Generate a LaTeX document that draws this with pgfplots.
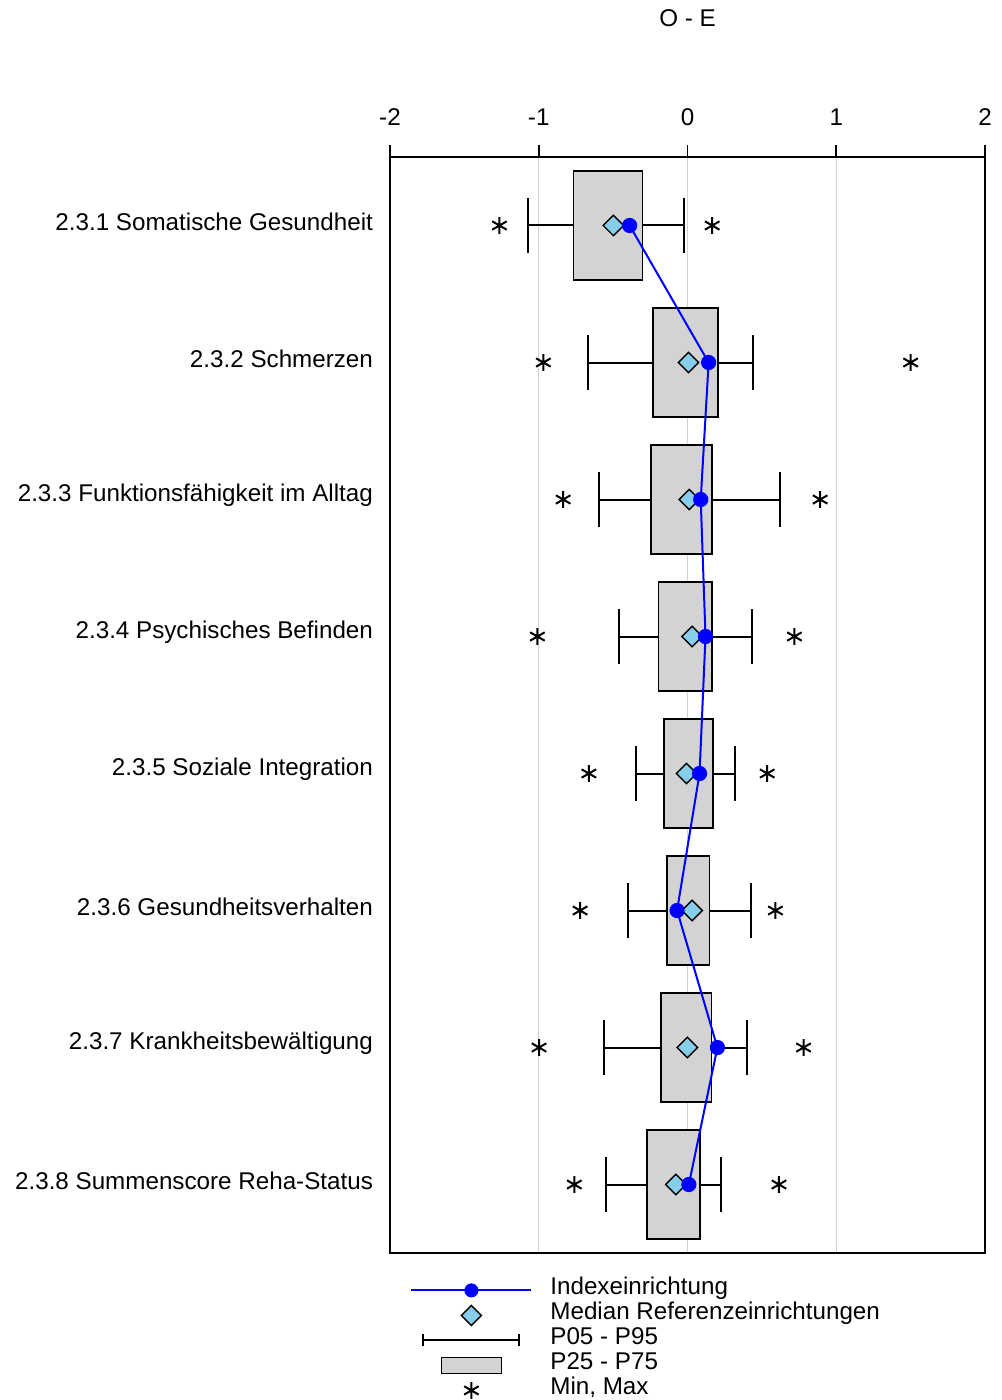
\documentclass[border=0pt]{standalone}
\usepackage{fontspec}
\setmainfont{Liberation Sans}
\usepackage{pgfplots}
\pgfplotsset{compat=1.18}
\usepgfplotslibrary{statistics}
\usetikzlibrary{calc}
\definecolor{boxgray}{RGB}{211,211,211}
\definecolor{medblue}{RGB}{135,206,235}
\definecolor{gridgray}{RGB}{208,208,208}
\newcommand\lab{\fontsize{12.1}{14.4}\selectfont}

\begin{document}
\begin{tikzpicture}
\begin{axis}[
    name=ax,
    scale only axis,
    width=297.5pt, height=548pt,
    xmin=-2, xmax=2, ymin=0.5, ymax=8.5,
    y dir=reverse,
    xtick={-2,-1,0,1,2},
    xticklabels={-2,-1,0,1,2},
    xtick pos=right, xticklabel pos=right,
    tick align=outside,
    major tick length=6pt,
    ytick={1,...,8},
    yticklabels={2.3.1 Somatische Gesundheit, 2.3.2 Schmerzen,
        2.3.3 Funktionsfähigkeit im Alltag, 2.3.4 Psychisches Befinden,
        2.3.5 Soziale Integration, 2.3.6 Gesundheitsverhalten,
        2.3.7 Krankheitsbewältigung, 2.3.8 Summenscore Reha-Status},
    ytick pos=left,
    ytick style={draw=none},
    xtick style={black, line width=0.8pt},
    xmajorgrids,
    grid style={gridgray, line width=0.5pt},
    axis line style={line width=0.9pt},
    tick label style={font=\lab},
    xticklabel style={yshift=6pt},
    yticklabel style={xshift=1pt, yshift=2pt},
    boxplot/draw direction=x,
    boxplot/box extend=0.8,
    boxplot/whisker extend=0.4,
    boxplot/draw/median/.code={},
    boxplot/every whisker/.style={draw=black, line width=1pt},
    boxplot/every box/.style={draw=black, fill=boxgray, line width=0.9pt},
    legend cell align=left,
    legend style={at={(0,0)}, anchor=north west, xshift=10pt, yshift=-12.25pt,
        draw=none, fill=none, font=\lab, inner sep=0pt, row sep=0pt,
        column sep=9pt,
        nodes={inner sep=0pt, text height=8.5pt, text depth=4pt}},
]
% P05 - P95 whiskers and P25 - P75 boxes
\addplot[boxplot prepared={draw position=1, lower whisker=-1.075, lower quartile=-0.767,
    median=-0.498, upper quartile=-0.302, upper whisker=-0.023}, draw=black, forget plot] coordinates {};
\addplot[boxplot prepared={draw position=2, lower whisker=-0.666, lower quartile=-0.233,
    median=0.007, upper quartile=0.203, upper whisker=0.440}, draw=black, forget plot] coordinates {};
\addplot[boxplot prepared={draw position=3, lower whisker=-0.594, lower quartile=-0.246,
    median=0.012, upper quartile=0.163, upper whisker=0.623}, draw=black, forget plot] coordinates {};
\addplot[boxplot prepared={draw position=4, lower whisker=-0.461, lower quartile=-0.195,
    median=0.031, upper quartile=0.166, upper whisker=0.435}, draw=black, forget plot] coordinates {};
\addplot[boxplot prepared={draw position=5, lower whisker=-0.347, lower quartile=-0.158,
    median=-0.007, upper quartile=0.174, upper whisker=0.320}, draw=black, forget plot] coordinates {};
\addplot[boxplot prepared={draw position=6, lower whisker=-0.403, lower quartile=-0.140,
    median=0.031, upper quartile=0.148, upper whisker=0.424}, draw=black, forget plot] coordinates {};
\addplot[boxplot prepared={draw position=7, lower whisker=-0.562, lower quartile=-0.179,
    median=-0.001, upper quartile=0.161, upper whisker=0.400}, draw=black, forget plot] coordinates {};
\addplot[boxplot prepared={draw position=8, lower whisker=-0.546, lower quartile=-0.272,
    median=-0.078, upper quartile=0.086, upper whisker=0.227}, draw=black, forget plot] coordinates {};

% Min, Max
\addplot[only marks, mark=asterisk, mark size=4.2pt, mark options={black, line width=1pt}, forget plot]
coordinates {
    (-1.264,1) (0.166,1)
    (-0.969,2) (1.500,2)
    (-0.836,3) (0.892,3)
    (-1.009,4) (0.719,4)
    (-0.663,5) (0.536,5)
    (-0.722,6) (0.591,6)
    (-0.998,7) (0.780,7)
    (-0.761,8) (0.615,8)
};

% Median Referenzeinrichtungen
\addplot[only marks, mark=square*, mark size=3.6pt,
    mark options={rotate=45, fill=medblue, draw=black, line width=0.7pt}, forget plot]
coordinates {
    (-0.498,1) (0.007,2) (0.012,3) (0.031,4)
    (-0.007,5) (0.031,6) (-0.001,7) (-0.078,8)
};

% Indexeinrichtung
\addplot[blue, line width=1pt, mark=*, mark size=3.3pt,
    mark options={solid, fill=blue, draw=blue}, forget plot]
coordinates {
    (-0.389,1) (0.142,2) (0.089,3) (0.121,4)
    (0.081,5) (-0.070,6) (0.201,7) (0.009,8)
};

\addlegendimage{legend image code/.code={
    \draw[blue, line width=1pt] (0pt,0pt) -- (60pt,0pt);
    \fill[blue] (30pt,0pt) circle (3.3pt);}}
\addlegendentry{Indexeinrichtung}
\addlegendimage{legend image code/.code={
    \path[draw=none] (0pt,0pt) -- (60pt,0pt);
    \draw[black, fill=medblue, line width=0.7pt] (30pt,5pt) -- (35pt,0pt) -- (30pt,-5pt) -- (25pt,0pt) -- cycle;}}
\addlegendentry{Median Referenzeinrichtungen}
\addlegendimage{legend image code/.code={
    \path[draw=none] (0pt,0pt) -- (60pt,0pt);
    \draw[black, line width=1pt] (6pt,0pt) -- (54pt,0pt)
        (6pt,-3pt) -- (6pt,3pt) (54pt,-3pt) -- (54pt,3pt);}}
\addlegendentry{P05 - P95}
\addlegendimage{legend image code/.code={
    \path[draw=none] (0pt,0pt) -- (60pt,0pt);
    \draw[black, fill=boxgray, line width=0.7pt] (15pt,-4pt) rectangle (45pt,4pt);}}
\addlegendentry{P25 - P75}
\addlegendimage{legend image code/.code={
    \path[draw=none] (0pt,0pt) -- (60pt,0pt);
    \path[draw=none] plot[mark=asterisk, mark size=4.2pt, mark options={draw=black, line width=1pt}] coordinates {(30pt,0pt)};}}
\addlegendentry{Min, Max}
\end{axis}
\node[font=\lab] at ($(ax.north)+(0,69.5pt)$) {O - E};
\pgfresetboundingbox
\path[use as bounding box] ($(ax.south west)+(-195pt,-73.5pt)$) rectangle ($(ax.north east)+(8pt,78.5pt)$);
\end{tikzpicture}
\end{document}
